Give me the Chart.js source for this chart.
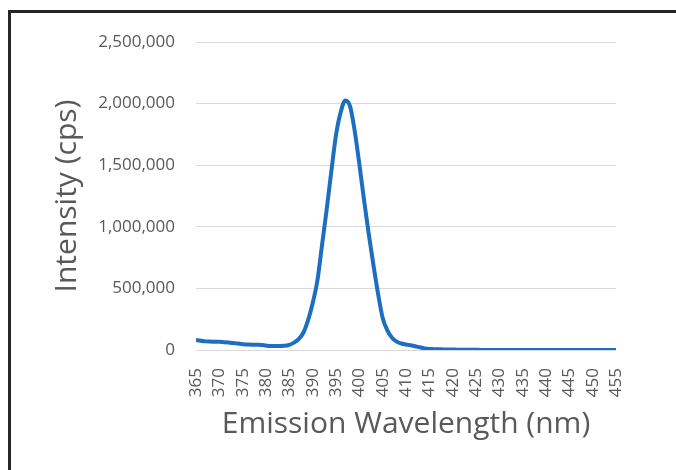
<!DOCTYPE html>
<html>
<head>
<meta charset="utf-8">
<script src="https://cdn.jsdelivr.net/npm/chart.js@4/dist/chart.umd.min.js"></script>
<style>
  html, body { margin: 0; padding: 0; background: #fff; }
  #frame { position: absolute; left: 8px; top: 10px; width: 700px; height: 500px;
           border-left: 3px solid #262626; border-top: 3px solid #262626; }
  #wrap { position: absolute; left: 0; top: 0; width: 676px; height: 470px; }
</style>
</head>
<body>
<div id="frame"></div>
<div id="wrap"><canvas id="chart"></canvas></div>
<script>
// emission spectrum, 1 nm steps from 365 to 455
var wavelengths = [];
for (var w = 365; w <= 455; w++) wavelengths.push(w);

var intensity = [
  82000, 75000, 70000, 68000, 67000, 66000, 63000, 60000, 57000, 52000,   // 365-374
  47000, 45000, 43000, 42000, 41000, 36000, 33000, 33000, 33000, 34000,   // 375-384
  42000, 60000, 88000, 140000, 240000, 380000, 560000, 850000, 1140000, 1450000, // 385-394
  1745000, 1930000, 2025000, 1980000, 1780000, 1510000, 1220000, 945000, 695000, 460000, // 395-404
  260000, 160000, 100000, 68000, 53000, 45000, 38000, 30000, 22000, 13000, // 405-414
  8000, 7000, 6000, 5000, 4000, 4000, 3000, 3000, 2000, 1500,              // 415-424
  1200, 1000, 1000, 900, 800, 800, 700, 700, 600, 600,                     // 425-434
  600, 500, 500, 500, 500, 500, 400, 400, 400, 400,                        // 435-444
  400, 400, 300, 300, 300, 300, 300, 300, 300, 300, 300                    // 445-455
];

var xTicks = [365, 370, 375, 380, 385, 390, 395, 400, 405, 410, 415, 420, 425, 430, 435, 440, 445, 450, 455];
var yTicks = [0, 500000, 1000000, 1500000, 2000000, 2500000];

var points = wavelengths.map(function(w, i) { return {x: w, y: intensity[i]}; });
var grey = '#595959';

var ctx = document.getElementById('chart').getContext('2d');
var chart = new Chart(ctx, {
  type: 'line',
  data: {
    datasets: [{
      data: points,
      borderColor: '#1b6ec0',
      borderWidth: 4,
      pointRadius: 0,
      cubicInterpolationMode: 'monotone',
      fill: false
    }]
  },
  options: {
    responsive: true,
    maintainAspectRatio: false,
    animation: false,
    layout: { padding: { left: 0, right: 60, top: 42, bottom: 0 } },
    plugins: { legend: { display: false }, tooltip: { enabled: false } },
    scales: {
      x: {
        type: 'linear',
        min: 365,
        max: 455,
        afterBuildTicks: function(scale) {
          scale.ticks = xTicks.map(function(v) { return {value: v}; });
        },
        afterFit: function(scale) { scale.height = 120; },
        grid: { display: false },
        border: { display: false },
        ticks: {
          color: grey,
          font: { family: 'Open Sans', size: 17 },
          minRotation: 90,
          maxRotation: 90,
          padding: 10,
          autoSkip: false
        },
        title: {
          display: true,
          text: 'Emission Wavelength (nm)',
          color: grey,
          font: { family: 'Open Sans', size: 30 },
          padding: { top: 0, bottom: 28 }
        }
      },
      y: {
        min: 0,
        max: 2500000,
        afterBuildTicks: function(scale) {
          scale.ticks = yTicks.map(function(v) { return {value: v}; });
        },
        afterFit: function(scale) { scale.width = 196; },
        grid: { color: '#d9d9d9', lineWidth: 1, drawTicks: false },
        border: { display: false },
        ticks: {
          color: grey,
          font: { family: 'Open Sans', size: 17 },
          padding: 21,
          callback: function(v) { return v.toLocaleString('en-US'); }
        },
        title: {
          display: true,
          text: 'Intensity (cps)',
          color: grey,
          font: { family: 'Open Sans', size: 30 },
          padding: { top: 49, bottom: 0 }
        }
      }
    }
  }
});
</script>
</body>
</html>
